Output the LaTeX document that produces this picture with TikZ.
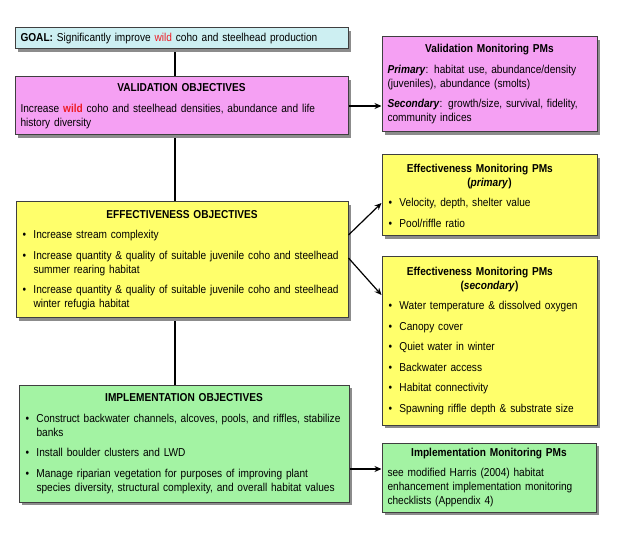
\documentclass[tikz,border=0pt]{standalone}
\usepackage{fontspec}
\setmainfont{Liberation Sans}[FakeStretch=0.88]
\usepackage{xcolor}
\usetikzlibrary{arrows.meta,positioning,calc,shadows,backgrounds}
\definecolor{PlanCyan}{HTML}{CDEFF2}
\definecolor{PlanPink}{HTML}{F5A0F3}
\definecolor{PlanYellow}{HTML}{FFFF6B}
\definecolor{PlanGreen}{HTML}{A3F3A3}
\definecolor{PlanRed}{HTML}{EE1C25}
\definecolor{PlanEdge}{HTML}{3F3F3F}
\definecolor{PlanShadow}{HTML}{8C8C8C}
\newcommand{\pmhead}[1]{{\centering\bfseries #1\par}}
\newcommand{\pmitem}[1]{\par\hangindent=12pt\hangafter=1\noindent
  \makebox[12pt][l]{\hspace{1pt}\textbullet}#1\par}
\newcommand{\wildword}{\textcolor{PlanRed}{wild}}

\begin{document}
\begin{tikzpicture}[x=1pt, y=-1pt,
  obj/.style={draw=PlanEdge, line width=1pt, fill=#1, inner xsep=5pt,
              inner ysep=3pt, align=left, font=\fontsize{11.5}{14}\selectfont,
              execute at begin node={\setlength{\parskip}{6.5pt}},
              drop shadow={shadow xshift=3pt, shadow yshift=-3pt,
                           fill=PlanShadow, opacity=1}},
  link/.style={line width=1.3pt},
  msg/.style={-{Stealth[length=7pt, width=6pt]}, line width=1.2pt}
]
\useasboundingbox (0,0) rectangle (624,537);
\coordinate (spine) at (175,0);

% Goal
\node[obj=PlanCyan, minimum width=333, minimum height=21, text width=322]
  (goal) at (181.5,38.5)
  {\textbf{GOAL:} Significantly improve \wildword{} coho and steelhead production};

% Validation
\node[obj=PlanPink, minimum width=333, minimum height=58, text width=322]
  (valobj) at (181.5,106)
  {\pmhead{VALIDATION OBJECTIVES}
   Increase \textbf{\wildword} coho and steelhead densities, abundance and life\newline
   history diversity};
\node[obj=PlanPink, minimum width=215, minimum height=95, text width=204]
  (valmon) at (489.5,84.5)
  {\pmhead{Validation Monitoring PMs}
   \textbf{\textit{Primary}}: habitat use, abundance/density\newline
   (juveniles), abundance (smolts)\par
   \textbf{\textit{Secondary}}: growth/size, survival, fidelity,\newline
   community indices};

% Effectiveness
\node[obj=PlanYellow, minimum width=332, minimum height=116, text width=321]
  (effobj) at (182,260)
  {\pmhead{EFFECTIVENESS OBJECTIVES}
   \pmitem{Increase stream complexity}
   \pmitem{Increase quantity \& quality of suitable juvenile coho and steelhead\newline
     summer rearing habitat}
   \pmitem{Increase quantity \& quality of suitable juvenile coho and steelhead\newline
     winter refugia habitat}};
\node[obj=PlanYellow, minimum width=215, minimum height=81, text width=204]
  (effpri) at (489.5,195.5)
  {\pmhead{Effectiveness Monitoring PMs\newline (\textit{primary})}
   \pmitem{Velocity, depth, shelter value}
   \pmitem{Pool/riffle ratio}};
\node[obj=PlanYellow, minimum width=215, minimum height=168, text width=204]
  (effsec) at (489.5,341)
  {\pmhead{Effectiveness Monitoring PMs\newline (\textit{secondary})}
   \pmitem{Water temperature \& dissolved oxygen}
   \pmitem{Canopy cover}
   \pmitem{Quiet water in winter}
   \pmitem{Backwater access}
   \pmitem{Habitat connectivity}
   \pmitem{Spawning riffle depth \& substrate size}};

% Implementation
\node[obj=PlanGreen, minimum width=330, minimum height=117, text width=319]
  (impobj) at (184,443.5)
  {\pmhead{IMPLEMENTATION OBJECTIVES}
   \pmitem{Construct backwater channels, alcoves, pools, and riffles, stabilize\newline
     banks}
   \pmitem{Install boulder clusters and LWD}
   \pmitem{Manage riparian vegetation for purposes of improving plant\newline
     species diversity, structural complexity, and overall habitat values}};
\node[obj=PlanGreen, minimum width=214, minimum height=69, text width=203]
  (impmon) at (489,477.5)
  {\pmhead{Implementation Monitoring PMs}
   see modified Harris (2004) habitat\newline
   enhancement implementation monitoring\newline
   checklists (Appendix 4)};

% Spine behind the objective boxes
\begin{scope}[on background layer]
\draw[link] (goal.south -| spine) -- (impobj.north -| spine);
\end{scope}

% Objectives to monitoring PMs
\draw[msg] (valobj.east) -- (valobj.east -| valmon.west);
\draw[msg] ($(effobj.east)+(0,-25)$) -- ($(effpri.west)+(0,7.5)$);
\draw[msg] ($(effobj.east)+(0,-2)$) -- ($(effsec.west)+(0,-46)$);
\coordinate (impfoot) at ($(impmon.west)+(0,-8.5)$);
\draw[msg] (impobj.east |- impfoot) -- (impfoot);

\end{tikzpicture}
\end{document}
